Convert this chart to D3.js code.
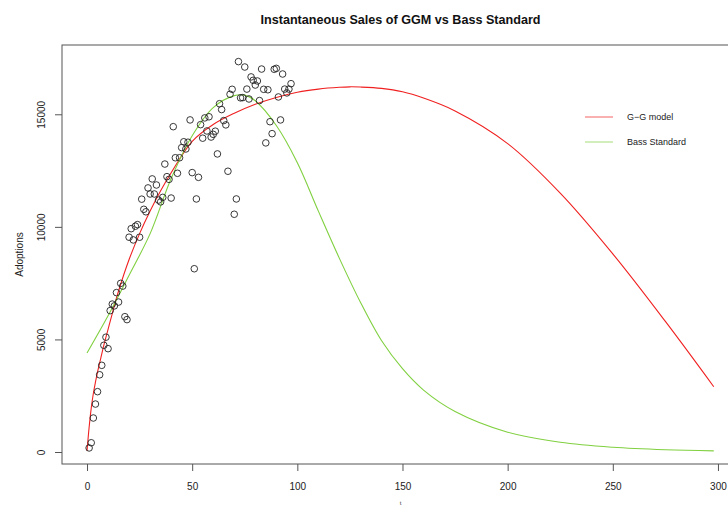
<!DOCTYPE html>
<html>
<head>
<meta charset="utf-8">
<script src="https://cdn.jsdelivr.net/npm/d3@7"></script>
<style>
  body { margin: 0; background: #fff; }
  svg { display: block; font-family: "Liberation Sans", Arial, Helvetica, sans-serif; }
</style>
</head>
<body>
<svg id="chart" width="728" height="510"></svg>
<script>
// Observed instantaneous adoptions, periods 1..97
const periods = d3.range(1, 98);
const adoptions = [
  180, 410, 1510, 2130, 2680, 3430, 3850, 4740, 5100, 4590,
  6280, 6570, 6490, 7080, 6660, 7490, 7370, 6010, 5880, 9540,
  9920, 9420, 10030, 10100, 9540, 11230, 10780, 10670, 11730, 11460,
  12130, 11460, 11860, 11190, 11110, 11310, 12790, 12230, 12110, 11280,
  14450, 13070, 12380, 13070, 13520, 13780, 13460, 13760, 14750, 12410,
  8140, 11240, 12200, 14540, 13940, 14840, 14260, 14890, 13990, 14110,
  14250, 13240, 15470, 15210, 14720, 14530, 12470, 15890, 16110, 10560,
  11240, 17340, 15730, 15740, 17100, 16120, 15680, 16660, 16510, 16300,
  16480, 15610, 17010, 16110, 13730, 16090, 14670, 14140, 17000, 17040,
  15770, 14750, 16790, 16120, 15950, 16120, 16360
];

// Fitted G-G model curve, sampled at these periods
const ggmT = [0, 1, 2, 3, 4, 5, 6, 8, 10, 12, 15, 20, 25, 30, 35, 40, 50, 60, 70, 80,
  90, 100, 110, 120, 125, 130, 140, 150, 160, 175, 200, 225, 250, 275, 298];
const ggmFit = [50, 1100, 1950, 2600, 3100, 3550, 3950, 4750, 5450, 6150, 7150, 8550, 9700, 10700, 11600, 12400, 13800, 14550, 15050, 15450,
  15750, 15980, 16120, 16200, 16220, 16210, 16150, 16000, 15720, 15150, 13700, 11500, 8800, 5800, 2900];

// Fitted standard Bass model curve
const bassT = [0, 10, 20, 30, 40, 50, 60, 70, 75, 80, 90, 100, 110, 120, 130, 140, 150, 160, 175, 200, 225, 250, 275, 298];
const bassFit = [4400, 6050, 7850, 9700, 12150, 14050, 15300, 15830, 15850, 15600, 14500, 12850, 10700, 8600, 6650, 4950, 3700, 2750, 1800, 880, 430, 210, 100, 50];

const xTicks = [0, 50, 100, 150, 200, 250, 300];
const yTicks = [0, 5000, 10000, 15000];
const seriesNames = ["G\u2212G model", "Bass Standard"];
const seriesColors = ["#f02020", "#80d040"];

const svg = d3.select("#chart");
const plot = { left: 62, right: 739, top: 45, bottom: 464 };

const x = d3.scaleLinear().domain([-11.9, 310]).range([plot.left, plot.right]);
const y = d3.scaleLinear().domain([-533, 18078]).range([plot.bottom, plot.top]);

// Clip for the plotting region
svg.append("clipPath").attr("id", "plotClip")
  .append("rect")
  .attr("x", plot.left).attr("y", plot.top)
  .attr("width", plot.right - plot.left).attr("height", plot.bottom - plot.top);

const inner = svg.append("g").attr("clip-path", "url(#plotClip)");

const line = d3.line()
  .x(d => x(d[0]))
  .y(d => y(d[1]))
  .curve(d3.curveCatmullRom.alpha(0.5));

// G-G model curve
inner.append("path")
  .datum(ggmT.map((t, i) => [t, ggmFit[i]]))
  .attr("d", line)
  .attr("fill", "none")
  .attr("stroke", seriesColors[0])
  .attr("stroke-width", 1.1);

// Bass standard curve
inner.append("path")
  .datum(bassT.map((t, i) => [t, bassFit[i]]))
  .attr("d", line)
  .attr("fill", "none")
  .attr("stroke", seriesColors[1])
  .attr("stroke-width", 1.1);

// Observed points as open circles
inner.selectAll("circle.obs")
  .data(periods.map((t, i) => [t, adoptions[i]]))
  .join("circle")
  .attr("class", "obs")
  .attr("cx", d => x(d[0]))
  .attr("cy", d => y(d[1]))
  .attr("r", 3.3)
  .attr("fill", "none")
  .attr("stroke", "#222")
  .attr("stroke-width", 0.9);

// Plot frame
svg.append("rect")
  .attr("x", plot.left).attr("y", plot.top)
  .attr("width", plot.right - plot.left).attr("height", plot.bottom - plot.top)
  .attr("fill", "none").attr("stroke", "#555").attr("stroke-width", 1);

// X axis
const xAxis = svg.append("g")
  .attr("transform", `translate(0,${plot.bottom})`)
  .call(d3.axisBottom(x).tickValues(xTicks).tickSize(7).tickPadding(12).tickFormat(d3.format("d")));
xAxis.select(".domain").remove();
xAxis.selectAll(".tick line").attr("stroke", "#555");
xAxis.selectAll(".tick text")
  .attr("font-size", 10).attr("fill", "#222")
  .attr("font-family", "Liberation Sans, Arial, sans-serif");

// Y axis with rotated labels
const yAxis = svg.append("g")
  .attr("transform", `translate(${plot.left},0)`)
  .call(d3.axisLeft(y).tickValues(yTicks).tickSize(7).tickFormat(d3.format("d")));
yAxis.select(".domain").remove();
yAxis.selectAll(".tick line").attr("stroke", "#555");
yAxis.selectAll(".tick text")
  .attr("transform", "rotate(-90)")
  .attr("x", 0).attr("y", -21)
  .attr("dy", "0.35em")
  .attr("text-anchor", "middle")
  .attr("font-size", 10).attr("fill", "#222")
  .attr("font-family", "Liberation Sans, Arial, sans-serif");

// Title
svg.append("text")
  .attr("x", (plot.left + plot.right) / 2).attr("y", 24)
  .attr("text-anchor", "middle")
  .attr("font-size", 13).attr("font-weight", "bold").attr("fill", "#111")
  .attr("textLength", 280).attr("lengthAdjust", "spacingAndGlyphs")
  .text("Instantaneous Sales of GGM vs Bass Standard");

// Axis titles
svg.append("text")
  .attr("transform", `translate(19,${(plot.top + plot.bottom) / 2}) rotate(-90)`)
  .attr("text-anchor", "middle").attr("dy", "0.35em")
  .attr("font-size", 10).attr("fill", "#222")
  .text("Adoptions");

svg.append("text")
  .attr("x", (plot.left + plot.right) / 2).attr("y", 505)
  .attr("text-anchor", "middle")
  .attr("font-size", 6).attr("fill", "#444")
  .text("t");

// Legend
const legend = svg.append("g").attr("transform", "translate(585,117)");
seriesNames.forEach((name, i) => {
  const g = legend.append("g").attr("transform", `translate(0,${i * 25})`);
  g.append("line")
    .attr("x1", 0).attr("x2", 28).attr("y1", 0).attr("y2", 0)
    .attr("stroke", seriesColors[i]).attr("stroke-width", 1).attr("opacity", 0.7);
  g.append("text")
    .attr("x", 42).attr("y", 0).attr("dy", "0.35em")
    .attr("font-size", 9).attr("fill", "#222")
    .text(name);
});
</script>
</body>
</html>
